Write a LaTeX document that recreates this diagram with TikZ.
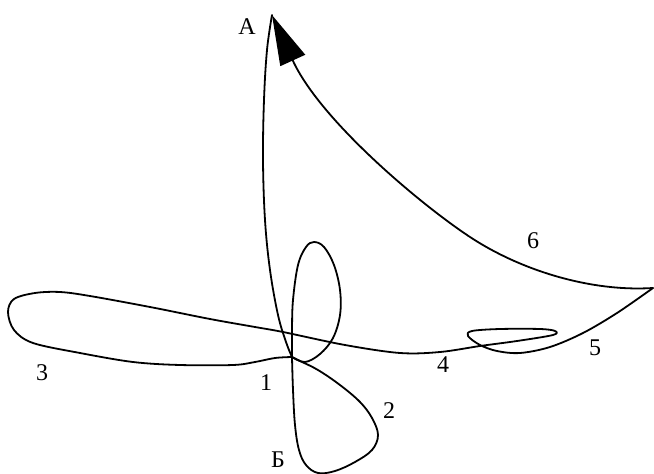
\documentclass[tikz,border=0pt]{standalone}
\usepackage{fontspec}
\setmainfont{Liberation Serif}
\usetikzlibrary{arrows.meta}
\begin{document}
\begin{tikzpicture}[x=1pt,y=-1pt,
  traj/.style={line width=1.8pt, line join=round, line cap=round},
  lbl/.style={font=\fontsize{24}{24}\selectfont, inner sep=0pt}]
\useasboundingbox (0,0) rectangle (654,474);
\coordinate (A) at (272,15);
\coordinate (J) at (292,357);
\coordinate (T) at (653,288);
\coordinate (M) at (470,237);
% left line from A down to the junction
\draw[traj] plot[smooth,tension=0.6] coordinates {(272,15) (267,50) (264,100) (263,160) (265,220) (270,270) (278,315) (286,342) (292,357)};
% loop 2 (below the junction)
\draw[traj] plot[smooth,tension=0.6] coordinates {(292,357) (293,390) (295,425) (299,450) (306,465) (318,473) (335,471) (355,462) (372,450) (378,435) (372,418) (360,402) (340,385) (318,370) (300,361) (292,357)};
% loop 1 (tall loop above the junction)
\draw[traj] plot[smooth,tension=0.6] coordinates {(292,357) (292,330) (293,300) (298,265) (306,247) (314,242) (324,247) (334,265) (340,290) (340,315) (333,338) (320,354) (305,362) (292,357)};
% loop 3, line 4, loop 5 up to the right tip
\draw[traj] plot[smooth,tension=0.55] coordinates {(292,357) (275,358) (255,362) (233,365) (180,365) (133,362) (80,353) (33,343) (14,330) (8,312) (14,299) (35,293) (60,292) (90,296) (150,307) (210,319) (255,327) (283,332) (345,345) (400,353) (440,352) (480,346) (517,341) (553,335) (555,331) (540,329) (500,329) (472,331) (468,336) (480,345) (497,351) (520,353) (550,347) (583,333) (617,313) (653,288)};
% line 6 from the right tip back to A
\draw[traj,-{Triangle[length=50pt,width=27pt]}] (T) .. controls (590,292) and (520,270) .. (M) .. controls (420,204) and (320,120) .. (A);
\node[lbl] (lA) at (247,27) {А};
\node[lbl] (lB) at (278,460) {Б};
\node[lbl] (l1) at (266,383) {1};
\node[lbl] (l2) at (389,411) {2};
\node[lbl] (l3) at (42,373) {3};
\node[lbl] (l4) at (443,365) {4};
\node[lbl] (l5) at (595,348) {5};
\node[lbl] (l6) at (533,241) {6};
\end{tikzpicture}
\end{document}
